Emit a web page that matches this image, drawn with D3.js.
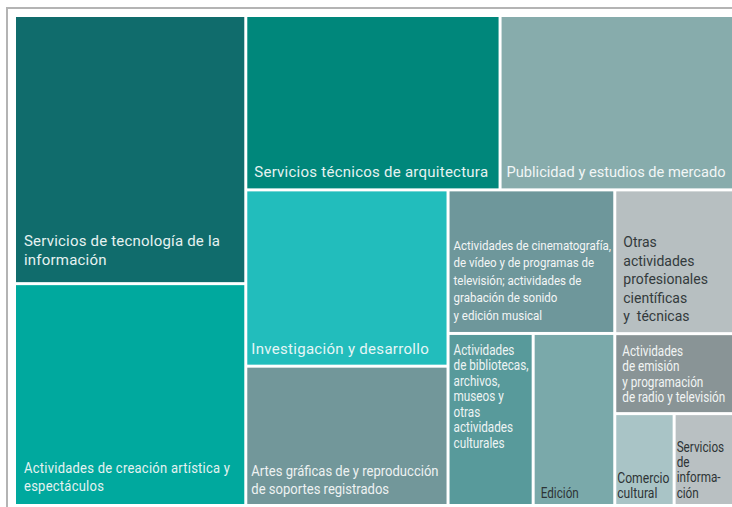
<!DOCTYPE html>
<html lang="es">
<head>
<meta charset="utf-8">
<title>Treemap sectores</title>
<script src="https://cdn.jsdelivr.net/npm/d3@7"></script>
<style>
  body { margin: 0; background: #fff; }
  svg { display: block; }
  text { font-family: Roboto, "Open Sans", sans-serif; white-space: pre; }
</style>
</head>
<body>
<script>
var w = 732, h = 507;

// sectores (hojas), en orden de dibujo
var sectors = ["Tecnología", "Creación", "Arquitectura", "Publicidad", "Investigación", "Artes",
  "Cine", "Bibliotecas", "Edición", "Otras", "Emisión", "Comercio", "Información"];
var values = [61400, 50800, 43900, 40300, 35300, 27900, 23700, 14500, 13900, 16900, 9400, 5400, 5400];

var labels = [
  ["Servicios de tecnología de la", "información"],
  ["Actividades de creación artística y", "espectáculos"],
  ["Servicios técnicos de arquitectura"],
  ["Publicidad y estudios de mercado"],
  ["Investigación y desarrollo"],
  ["Artes gráficas de y reproducción", "de soportes registrados"],
  ["Actividades de cinematografía,", "de vídeo y de programas de", "televisión; actividades de", "grabación de sonido", "y edición musical"],
  ["Actividades", "de bibliotecas,", "archivos,", "museos y", "otras", "actividades", "culturales"],
  ["Edición"],
  ["Otras", "actividades", "profesionales", "científicas", "y  técnicas"],
  ["Actividades", "de emisión", "y programación", "de radio y televisión"],
  ["Comercio", "cultural"],
  ["Servicios", "de", "informa-", "ción"]
];

// agrupación de los bloques (índices de sectors)
var groups = [[0, 1], [[2, 3], [[4, 5], [6, [7, 8]], [9, 10, [11, 12]]]]];

var fills = ["#106c6c", "#00a99e", "#00877b", "#87acac", "#22bdbc", "#72979a",
  "#6e979b", "#589a9b", "#7aa9aa", "#b7bfc1", "#899496", "#a9c4c6", "#b9c0c2"];

// estilo de etiqueta: tamaño, interlineado, margen x, margen inferior, escala horizontal, color, espaciado
var labelStyle = [
  [15, 19.5, 8, 17, 1, "#e6f2f1", 0.2],
  [15, 18.5, 8, 13, 0.865, "#e6f2f1", 0.3],
  [15, 18, 7, 11, 1, "#e6f2f1", 0.25],
  [15, 18, 5, 11, 0.975, "#f2f6f6", 0],
  [15, 18, 4, 11, 1, "#e6f6f6", 0.3],
  [15, 18.5, 4, 10, 0.87, "#eef2f2", 0],
  [12.8, 17.5, 4, 12, 0.9, "#f4f6f6", 0],
  [13.8, 15.5, 4, 56, 0.85, "#eef4f4", 0],
  [13.8, 15.5, 6, 6, 0.85, "#2e3436", 0],
  [14, 18.5, 7, 11, 1, "#333a3c", 0],
  [13.8, 15.5, 6, 10, 0.85, "#f2f4f4", 0],
  [13.8, 15.5, 1, 6, 0.88, "#2e3436", 0],
  [13.8, 15.5, 1, 6, 0.85, "#2e3436", 0]
];

function build(g) {
  if (Array.isArray(g)) return { children: g.map(build) };
  return { name: sectors[g], value: values[g], i: g };
}

var root = d3.hierarchy(build(groups)).sum(function(d) { return d.value || 0; });

d3.treemap()
  .tile(d3.treemapSliceDice)
  .size([716, 487])
  .paddingInner(3)(root);

var svg = d3.select("body").append("svg")
  .attr("width", w)
  .attr("height", h);

// marco gris (arriba e izquierda)
svg.append("path")
  .attr("d", "M7," + h + "V8H" + w)
  .attr("fill", "none")
  .attr("stroke", "#b4b4b4")
  .attr("stroke-width", 2);

var g = svg.append("g").attr("transform", "translate(16,17)");

var cell = g.selectAll("g.cell")
  .data(root.leaves())
  .enter()
  .append("g")
  .attr("class", "cell");

cell.append("rect")
  .attr("x", function(d) { return d.x0; })
  .attr("y", function(d) { return d.y0; })
  .attr("width", function(d) { return d.x1 - d.x0; })
  .attr("height", function(d) { return d.y1 - d.y0; })
  .attr("fill", function(d) { return fills[d.data.i]; });

cell.each(function(d) {
  var i = d.data.i;
  var s = labelStyle[i];
  var lines = labels[i];
  var x = d.x0 + s[2];
  var yLast = d.y1 - s[3];
  var t = d3.select(this).append("text")
    .attr("transform", "translate(" + x + "," + (yLast - (lines.length - 1) * s[1]) + ") scale(" + s[4] + ",1)")
    .attr("font-size", s[0])
    .attr("letter-spacing", s[6])
    .attr("fill", s[5]);
  t.selectAll("tspan")
    .data(lines)
    .enter()
    .append("tspan")
    .attr("x", 0)
    .attr("y", function(l, k) { return k * s[1]; })
    .text(function(l) { return l; });
});
</script>
</body>
</html>
